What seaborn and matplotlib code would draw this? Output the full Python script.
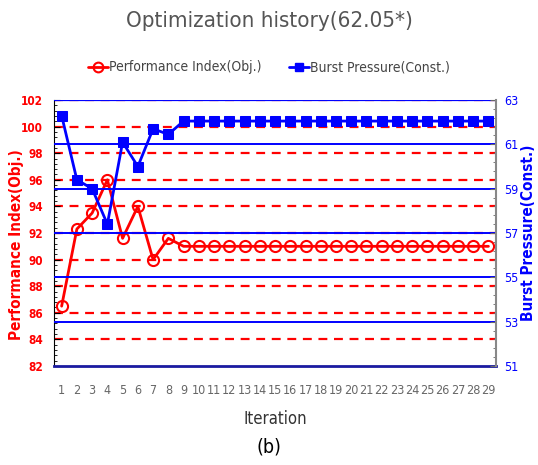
import numpy as np
import pandas as pd
import seaborn as sns
from matplotlib import pyplot as plt
from matplotlib.ticker import MultipleLocator, AutoMinorLocator
from matplotlib.lines import Line2D

iterations = list(range(1, 30))
perf_index = [86.5, 92.3, 93.5, 96.0, 91.6, 94.0, 90.0, 91.6] + [91.0] * 21
burst_pressure = [62.3, 59.4, 59.0, 57.4, 61.1, 60.0, 61.7, 61.45] + [62.05] * 21
left_ticks = list(range(82, 103, 2))
right_ticks = list(range(51, 64, 2))

df = pd.DataFrame({'Iteration': iterations, 'Obj': perf_index, 'Const': burst_pressure})

sns.set_style('white')
plt.rcParams['font.family'] = ['DejaVu Sans']
plt.rcParams['font.stretch'] = 'condensed'

fig = plt.figure(figsize=(5.38, 4.65), dpi=100)
ax = fig.add_axes([0.1004, 0.2129, 0.8216, 0.572])
ax2 = ax.twinx()

# grid lines: red dashed on left ticks, blue solid on right ticks
for v in left_ticks[1:-1]:
    ax.axhline(v, color='red', lw=1.6, ls=(0, (4, 3)), zorder=0)
for v in right_ticks[1:-1]:
    ax2.axhline(v, color='blue', lw=1.4, zorder=0)
ax2.axhline(63, color='blue', lw=1.6, zorder=0)
ax.axhline(102, color='red', lw=1.6, ls=(0, (4, 3)), zorder=1)

sns.lineplot(data=df, x='Iteration', y='Obj', ax=ax, color='red', lw=2,
             marker='o', markersize=8, markerfacecolor='none',
             markeredgecolor='red', markeredgewidth=1.5, zorder=3)
sns.lineplot(data=df, x='Iteration', y='Const', ax=ax2, color='blue', lw=2,
             marker='s', markersize=7, markeredgecolor='blue', zorder=3)

ax.set_xlim(0.5, 29.5)
ax.set_ylim(82, 102)
ax2.set_ylim(51, 63)

ax.set_xticks(iterations)
ax.set_xticklabels([str(i) for i in iterations], color='#666666', fontsize=9)
ax.set_yticks(left_ticks)
ax.yaxis.set_minor_locator(AutoMinorLocator(5))
ax2.set_yticks(right_ticks)
ax2.yaxis.set_minor_locator(AutoMinorLocator(5))

ax.tick_params(axis='x', direction='in', length=4, color='#333333', pad=13)
ax.tick_params(axis='y', which='major', direction='in', length=4, colors='black',
               labelcolor='red', labelsize=8.5, pad=8)
ax.tick_params(axis='y', which='minor', direction='in', length=2, colors='black')
for t in ax.get_yticklabels():
    t.set_fontweight('bold')
ax2.tick_params(axis='y', which='major', direction='in', length=4, colors='#666666',
                labelcolor='blue', labelsize=9, pad=6)
ax2.tick_params(axis='y', which='minor', direction='in', length=2, colors='#666666')

ax.set_xlabel('Iteration', color='#333333', fontsize=12, labelpad=9)
ax.set_ylabel('')
ax2.set_ylabel('')
fig.text(0.03, 0.475, 'Performance Index(Obj.)', rotation=90, ha='center',
         va='center', color='red', fontsize=11, fontweight='bold')
fig.text(0.982, 0.5, 'Burst Pressure(Const.)', rotation=90, ha='center',
         va='center', color='blue', fontsize=11, fontweight='bold')

ax.spines['left'].set_color('black')
ax.spines['bottom'].set_color('#1a1aa0')
ax.spines['bottom'].set_linewidth(2)
ax.spines['top'].set_visible(False)
ax2.spines['top'].set_visible(False)
ax2.spines['bottom'].set_visible(False)
ax2.spines['left'].set_visible(False)
ax.spines['right'].set_visible(False)
ax2.spines['right'].set_color('#888888')
ax2.spines['right'].set_linewidth(1.5)

handles = [
    Line2D([], [], color='red', lw=2, marker='o', markersize=7,
           markerfacecolor='none', markeredgecolor='red', markeredgewidth=1.5),
    Line2D([], [], color='blue', lw=2, marker='s', markersize=6),
]
fig.legend(handles, ['Performance Index(Obj.)', 'Burst Pressure(Const.)'],
           loc='center', bbox_to_anchor=(0.5, 0.855), ncol=2, frameon=False,
           fontsize=10, handlelength=1.4, handletextpad=0.1, columnspacing=2.0,
           labelcolor='#444444')

fig.text(0.5, 0.955, 'Optimization history(62.05*)', ha='center', va='center',
         fontsize=16, color='#555555')
fig.text(0.5, 0.038, '(b)', ha='center', va='center', fontsize=14, color='black')

fig.savefig('out.png', dpi=100)
